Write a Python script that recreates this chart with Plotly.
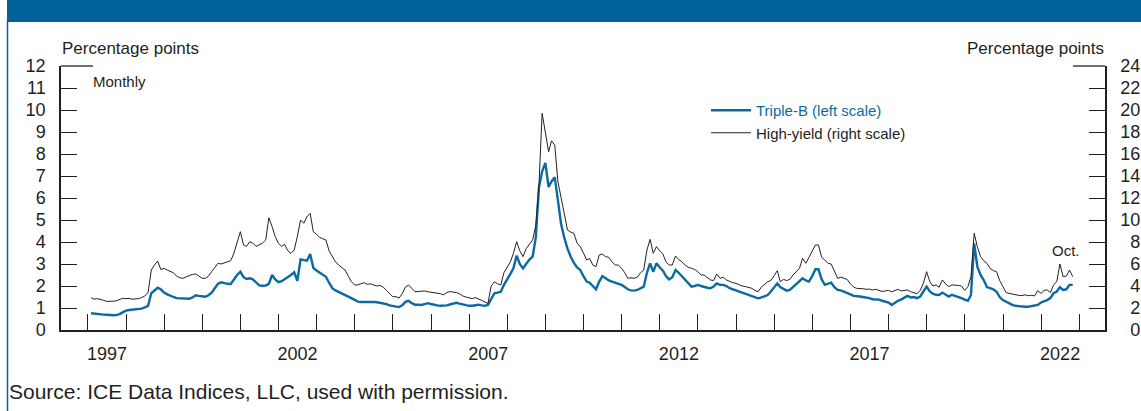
import pandas as pd
import plotly.graph_objects as go

# ---------------- data (month-end readings, percentage points) ----------------
start_month = "1997-01"
triple_b = [
    0.76, 0.74, 0.72, 0.70, 0.70, 0.69, 0.67, 0.67, 0.68, 0.72, 0.80, 0.88,  # 1997
    0.91, 0.92, 0.93, 0.94, 0.97, 1.03, 1.10, 1.67, 1.80, 1.92, 1.85, 1.70,  # 1998
    1.62, 1.55, 1.50, 1.45, 1.45, 1.44, 1.42, 1.42, 1.48, 1.58, 1.55, 1.52,  # 1999
    1.51, 1.58, 1.70, 1.90, 2.10, 2.17, 2.12, 2.10, 2.09, 2.30, 2.50, 2.65,  # 2000
    2.40, 2.32, 2.35, 2.30, 2.15, 2.03, 2.01, 2.02, 2.10, 2.50, 2.30, 2.17,  # 2001
    2.22, 2.30, 2.39, 2.50, 2.62, 2.24, 3.21, 3.18, 3.15, 3.45, 2.83, 2.70,  # 2002
    2.60, 2.50, 2.42, 2.15, 1.90, 1.80, 1.72, 1.65, 1.59, 1.52, 1.45, 1.35,  # 2003
    1.29, 1.27, 1.28, 1.29, 1.30, 1.28, 1.26, 1.24, 1.22, 1.18, 1.12, 1.08,  # 2004
    1.06, 1.04, 1.12, 1.28, 1.33, 1.22, 1.15, 1.15, 1.14, 1.18, 1.22, 1.18,  # 2005
    1.14, 1.12, 1.10, 1.10, 1.12, 1.16, 1.20, 1.24, 1.20, 1.16, 1.13, 1.10,  # 2006
    1.10, 1.12, 1.15, 1.12, 1.10, 1.14, 1.40, 1.67, 1.70, 1.74, 2.05, 2.27,  # 2007
    2.55, 2.80, 3.38, 3.00, 2.80, 3.00, 3.20, 3.33, 4.20, 6.50, 7.20, 7.60,  # 2008
    6.50, 6.75, 6.94, 5.90, 4.80, 4.20, 3.70, 3.33, 3.05, 2.85, 2.73, 2.45,  # 2009
    2.20, 2.15, 2.00, 1.85, 2.20, 2.45, 2.35, 2.25, 2.20, 2.15, 2.10, 2.05,  # 2010
    1.95, 1.85, 1.80, 1.79, 1.82, 1.90, 1.97, 2.60, 3.03, 2.65, 3.03, 2.85,  # 2011
    2.70, 2.45, 2.30, 2.40, 2.73, 2.60, 2.45, 2.30, 2.15, 1.97, 2.00, 2.05,  # 2012
    2.00, 1.95, 1.92, 1.90, 1.98, 2.12, 2.05, 2.05, 2.00, 1.90, 1.85, 1.79,  # 2013
    1.72, 1.68, 1.62, 1.58, 1.52, 1.47, 1.44, 1.48, 1.52, 1.59, 1.75, 1.95,  # 2014
    2.12, 1.95, 1.85, 1.79, 1.82, 1.95, 2.05, 2.20, 2.35, 2.25, 2.20, 2.45,  # 2015
    2.76, 2.76, 2.30, 2.05, 2.10, 2.15, 1.95, 1.82, 1.80, 1.75, 1.68, 1.62,  # 2016
    1.55, 1.55, 1.52, 1.50, 1.48, 1.45, 1.40, 1.39, 1.38, 1.33, 1.28, 1.25,  # 2017
    1.14, 1.25, 1.33, 1.38, 1.45, 1.55, 1.48, 1.50, 1.45, 1.52, 1.75, 1.97,  # 2018
    1.75, 1.65, 1.60, 1.59, 1.70, 1.60, 1.52, 1.60, 1.55, 1.52, 1.45, 1.38,  # 2019
    1.33, 1.59, 3.94, 2.88, 2.50, 2.27, 1.95, 1.90, 1.85, 1.74, 1.50, 1.36,  # 2020
    1.28, 1.20, 1.14, 1.10, 1.08, 1.07, 1.06, 1.06, 1.08, 1.10, 1.14, 1.25,  # 2021
    1.30, 1.36, 1.45, 1.67, 1.75, 1.94, 1.82, 1.85, 2.05, 2.05,              # 2022
]
high_yield = [
    2.94, 2.80, 2.85, 2.80, 2.70, 2.60, 2.58, 2.62, 2.65, 2.80, 2.88, 2.85,  # 1997
    2.88, 2.80, 2.82, 2.85, 2.95, 3.10, 3.39, 5.45, 5.90, 6.27, 5.50, 5.60,  # 1998
    5.45, 5.35, 5.20, 4.90, 4.75, 4.70, 4.85, 4.95, 5.05, 5.09, 4.90, 4.70,  # 1999
    4.70, 4.90, 5.30, 5.70, 6.06, 6.00, 6.10, 6.20, 6.30, 7.00, 7.88, 8.94,  # 2000
    7.73, 7.60, 8.03, 7.90, 7.60, 7.73, 7.90, 8.18, 10.20, 9.40, 8.50, 7.88,  # 2001
    7.60, 7.80, 7.20, 6.97, 7.27, 8.50, 10.00, 9.70, 10.30, 10.60, 8.94, 8.70,  # 2002
    8.40, 8.30, 8.18, 7.20, 6.67, 6.20, 5.90, 5.70, 5.45, 4.90, 4.40, 4.09,  # 2003
    4.10, 4.20, 4.30, 4.15, 4.20, 4.09, 4.00, 4.05, 3.90, 3.60, 3.30, 3.03,  # 2004
    3.03, 2.90, 3.30, 3.90, 4.09, 3.80, 3.48, 3.50, 3.55, 3.55, 3.48, 3.45,  # 2005
    3.40, 3.35, 3.30, 3.20, 3.40, 3.50, 3.48, 3.40, 3.30, 3.10, 3.00, 2.95,  # 2006
    2.85, 2.95, 2.85, 2.70, 2.55, 2.42, 4.00, 4.39, 4.20, 4.09, 5.20, 5.76,  # 2007
    6.20, 6.97, 8.03, 7.20, 6.67, 7.40, 7.80, 8.18, 9.50, 13.30, 19.70, 17.80,  # 2008
    16.20, 17.20, 16.80, 13.50, 12.10, 10.50, 9.09, 8.90, 8.79, 7.90, 7.58, 7.00,  # 2009
    6.36, 6.50, 5.90, 5.76, 6.82, 6.90, 6.67, 6.60, 6.20, 5.91, 5.90, 5.61,  # 2010
    5.20, 4.70, 4.75, 4.70, 4.80, 5.20, 5.45, 7.27, 8.24, 6.97, 7.58, 7.20,  # 2011
    6.90, 6.20, 5.91, 5.91, 6.73, 6.40, 6.20, 5.90, 5.70, 5.61, 5.50, 5.30,  # 2012
    5.00, 5.00, 4.80, 4.55, 4.50, 5.09, 4.70, 4.80, 4.55, 4.40, 4.30, 4.24,  # 2013
    4.10, 4.00, 3.95, 3.85, 3.79, 3.60, 3.48, 3.90, 4.10, 4.39, 4.50, 5.00,  # 2014
    5.39, 4.39, 4.60, 4.50, 4.60, 5.00, 5.30, 5.60, 6.52, 6.06, 6.60, 7.10,  # 2015
    7.73, 7.73, 6.60, 6.36, 6.06, 6.00, 5.40, 4.70, 4.80, 4.70, 4.60, 4.20,  # 2016
    3.90, 3.79, 3.80, 3.75, 3.70, 3.72, 3.64, 3.70, 3.60, 3.50, 3.55, 3.60,  # 2017
    3.48, 3.60, 3.70, 3.55, 3.60, 3.64, 3.48, 3.40, 3.30, 3.60, 4.24, 5.30,  # 2018
    4.39, 4.00, 4.10, 3.88, 4.55, 4.20, 3.94, 4.10, 4.09, 4.05, 4.00, 3.60,  # 2019
    3.94, 4.85, 8.79, 7.58, 6.67, 6.30, 6.06, 5.60, 5.40, 5.30, 4.50, 3.94,  # 2020
    3.40, 3.33, 3.25, 3.18, 3.15, 3.12, 3.20, 3.12, 3.15, 3.10, 3.58, 3.33,  # 2021
    3.60, 3.64, 3.40, 4.10, 4.39, 6.00, 4.85, 4.90, 5.45, 4.85,              # 2022
]
year_ticks = list(range(1997, 2024))                      # tick marks at each Jan 1
year_labels = ["1997", "2002", "2007", "2012", "2017", "2022"]
left_ticks = list(range(0, 13))
right_ticks = list(range(0, 25, 2))
series_names = ["Triple-B (left scale)", "High-yield (right scale)"]

# month-end dates
dates = pd.date_range(start_month + "-01", periods=len(triple_b) + 1, freq="MS")[1:] - pd.Timedelta(days=1)

BLUE = "#0b6aa2"
BAND = "#006298"
INK = "#231f20"
FONT = "Liberation Sans, Arial, sans-serif"

fig = go.Figure()
fig.add_trace(go.Scatter(
    x=dates, y=triple_b, mode="lines", yaxis="y",
    name=f"<span style='color:{BLUE}'>{series_names[0]}</span>",
    line=dict(color=BLUE, width=2.4), hoverinfo="skip"))
fig.add_trace(go.Scatter(
    x=dates, y=high_yield, mode="lines", yaxis="y2",
    name=f"<span style='color:{INK}'>{series_names[1]}</span>",
    line=dict(color="#222222", width=1.0), hoverinfo="skip"))

W, H = 1141, 411
L, R, T, B = 61, 36, 66, 81
pw, ph = W - L - R, H - T - B


def px_x(p):
    return (p - L) / pw


def px_y(p):
    return (H - B - p) / ph


def right_label(v):
    # right-aligned labels a little away from the axis (as in the original)
    s = str(v)
    return "\u00a0\u00a0" + ("\u2007" + s if len(s) == 1 else s)


axis_common = dict(showline=True, linecolor=INK, linewidth=1.5, showgrid=False, zeroline=False,
                   ticks="inside", ticklen=16, tickwidth=1.3, tickcolor=INK,
                   tickfont=dict(family=FONT, size=18, color=INK))

fig.update_layout(
    width=W, height=H,
    margin=dict(l=L, r=R, t=T, b=B, autoexpand=False),
    paper_bgcolor="white", plot_bgcolor="white",
    font=dict(family=FONT, color=INK),
    showlegend=True,
    legend=dict(x=px_x(706), y=px_y(94), xanchor="left", yanchor="top",
                bgcolor="rgba(0,0,0,0)", font=dict(family=FONT, size=15, color=INK),
                itemwidth=40, tracegroupgap=0),
    xaxis=dict(
        type="date", range=["1996-04-18", "2023-09-05"],
        showline=True, linecolor=INK, linewidth=1.5, showgrid=False, zeroline=False,
        tickmode="array",
        tickvals=[f"{y}-07-02" for y in year_labels], ticktext=year_labels,
        ticks="", ticklabelstandoff=7,
        tickfont=dict(family=FONT, size=18, color=INK),
        minor=dict(tickmode="array", tickvals=[f"{y}-01-01" for y in year_ticks],
                   ticks="inside", ticklen=16, tickwidth=1.3, tickcolor=INK, showgrid=False),
    ),
    yaxis=dict(range=[0, 12], tickmode="array", tickvals=left_ticks,
               ticktext=[str(v) for v in left_ticks], ticklabelstandoff=10, **axis_common),
    yaxis2=dict(range=[0, 24], overlaying="y", side="right", tickmode="array",
                tickvals=right_ticks, ticktext=[right_label(v) for v in right_ticks],
                **axis_common),
)

ann_font = dict(family=FONT, size=17, color=INK)
fig.add_annotation(text="Percentage points", xref="paper", yref="paper", x=px_x(60), y=px_y(49),
                   xanchor="left", yanchor="middle", showarrow=False, font=ann_font)
fig.add_annotation(text="Percentage points", xref="paper", yref="paper", x=px_x(1106), y=px_y(49),
                   xanchor="right", yanchor="middle", showarrow=False, font=ann_font)
fig.add_annotation(text="Monthly", xref="paper", yref="paper", x=px_x(91), y=px_y(82),
                   xanchor="left", yanchor="middle", showarrow=False,
                   font=dict(family=FONT, size=15, color=INK))
fig.add_annotation(text="Oct.", xref="x", yref="y", x=dates[-1], y=high_yield[-1] / 2,
                   xanchor="center", yanchor="bottom", yshift=16, xshift=-7, showarrow=False,
                   font=dict(family=FONT, size=15, color=INK))
fig.add_annotation(text="Source: ICE Data Indices, LLC, used with permission.", xref="paper", yref="paper",
                   x=px_x(7), y=px_y(391), xanchor="left", yanchor="middle", showarrow=False,
                   font=dict(family=FONT, size=21, color=INK))

# header band and frame
fig.add_shape(type="rect", xref="paper", yref="paper", x0=px_x(7), x1=px_x(1141), y0=px_y(22), y1=px_y(-2),
              fillcolor=BAND, line=dict(width=0), layer="below")
fig.add_shape(type="line", xref="paper", yref="paper", x0=px_x(7.5), x1=px_x(7.5), y0=px_y(20), y1=px_y(415),
              line=dict(color=BAND, width=1.5))
# long top ticks
fig.add_shape(type="line", xref="paper", yref="paper", x0=0, x1=px_x(93), y0=1, y1=1,
              line=dict(color=INK, width=1.3))
fig.add_shape(type="line", xref="paper", yref="paper", x0=px_x(1073), x1=1, y0=1, y1=1,
              line=dict(color=INK, width=1.3))

fig.write_html("out.html", config={"displayModeBar": False},
               post_script="document.body.style.margin='0px';document.body.style.overflow='hidden';")
